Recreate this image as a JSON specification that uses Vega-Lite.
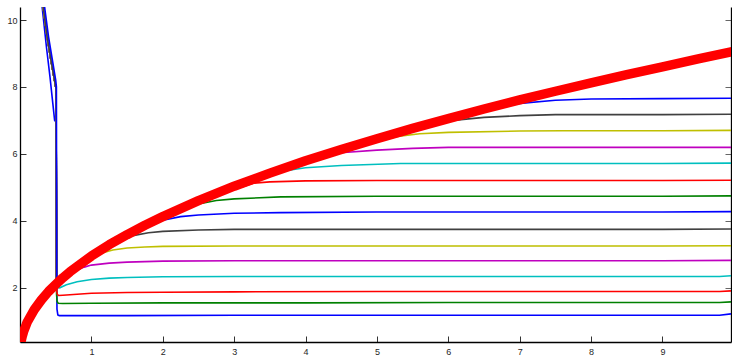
{
  "$schema": "https://vega.github.io/schema/vega-lite/v6.json",
  "width": 711,
  "height": 335,
  "autosize": {"type": "none"},
  "padding": {"left": 20, "top": 7, "right": 1, "bottom": 14},
  "background": "white",
  "config": {
    "view": {"stroke": null},
    "axis": {"grid": false, "title": null, "labelFont": "Liberation Sans", "labelFontSize": 9, "labelColor": "#262626", "domainColor": "#000000", "domainWidth": 1.3, "tickColor": "#333333", "tickWidth": 1, "tickSize": -6, "format": "d"}
  },
  "datasets": {
    "curves": [
      {"c":"c01","x":0.28,"y":11.0},{"c":"c01","x":0.32,"y":10.2},{"c":"c01","x":0.37,"y":9.2},{"c":"c01","x":0.42,"y":8.3},{"c":"c01","x":0.46,"y":7.5},{"c":"c01","x":0.485,"y":7.0},{"c":"c01","x":0.505,"y":6.95},{"c":"c01","x":0.512,"y":3.0},{"c":"c01","x":0.518,"y":1.35},{"c":"c01","x":0.53,"y":1.18},{"c":"c01","x":0.55,"y":1.16},{"c":"c01","x":0.8,"y":1.16},{"c":"c01","x":1.5,"y":1.16},{"c":"c01","x":3,"y":1.17},{"c":"c01","x":5,"y":1.17},{"c":"c01","x":7,"y":1.17},{"c":"c01","x":9,"y":1.17},{"c":"c01","x":9.8,"y":1.17},{"c":"c01","x":9.96,"y":1.21},

      {"c":"c02","x":0.29,"y":11.0},{"c":"c02","x":0.33,"y":10.3},{"c":"c02","x":0.38,"y":9.5},{"c":"c02","x":0.43,"y":8.85},{"c":"c02","x":0.48,"y":8.25},{"c":"c02","x":0.505,"y":7.95},{"c":"c02","x":0.512,"y":1.8},{"c":"c02","x":0.52,"y":1.58},{"c":"c02","x":0.535,"y":1.53},{"c":"c02","x":0.6,"y":1.52},{"c":"c02","x":1,"y":1.53},{"c":"c02","x":2,"y":1.54},{"c":"c02","x":4,"y":1.54},{"c":"c02","x":6,"y":1.55},{"c":"c02","x":8,"y":1.55},{"c":"c02","x":9.8,"y":1.55},{"c":"c02","x":9.96,"y":1.57},

      {"c":"c03","x":0.29,"y":11.0},{"c":"c03","x":0.33,"y":10.3},{"c":"c03","x":0.38,"y":9.5},{"c":"c03","x":0.43,"y":8.85},{"c":"c03","x":0.48,"y":8.25},{"c":"c03","x":0.505,"y":7.95},{"c":"c03","x":0.512,"y":1.95},{"c":"c03","x":0.522,"y":1.8},{"c":"c03","x":0.54,"y":1.76},{"c":"c03","x":0.6,"y":1.77},{"c":"c03","x":0.8,"y":1.8},{"c":"c03","x":1.0,"y":1.83},{"c":"c03","x":1.5,"y":1.85},{"c":"c03","x":2,"y":1.86},{"c":"c03","x":3,"y":1.87},{"c":"c03","x":5,"y":1.88},{"c":"c03","x":7,"y":1.88},{"c":"c03","x":9,"y":1.88},{"c":"c03","x":9.8,"y":1.88},{"c":"c03","x":9.96,"y":1.9},

      {"c":"c04","x":0.29,"y":11.0},{"c":"c04","x":0.33,"y":10.3},{"c":"c04","x":0.38,"y":9.5},{"c":"c04","x":0.43,"y":8.85},{"c":"c04","x":0.48,"y":8.25},{"c":"c04","x":0.505,"y":7.95},{"c":"c04","x":0.512,"y":2.1},{"c":"c04","x":0.53,"y":2.0},{"c":"c04","x":0.556,"y":1.99},{"c":"c04","x":0.65,"y":2.08},{"c":"c04","x":0.8,"y":2.17},{"c":"c04","x":1.0,"y":2.24},{"c":"c04","x":1.25,"y":2.28},{"c":"c04","x":1.5,"y":2.3},{"c":"c04","x":2,"y":2.32},{"c":"c04","x":3,"y":2.33},{"c":"c04","x":5,"y":2.33},{"c":"c04","x":7,"y":2.33},{"c":"c04","x":9,"y":2.33},{"c":"c04","x":9.8,"y":2.33},{"c":"c04","x":9.96,"y":2.35},

      {"c":"c05","x":0.29,"y":11.0},{"c":"c05","x":0.33,"y":10.3},{"c":"c05","x":0.38,"y":9.5},{"c":"c05","x":0.43,"y":8.85},{"c":"c05","x":0.48,"y":8.25},{"c":"c05","x":0.505,"y":7.95},{"c":"c05","x":0.512,"y":2.03},{"c":"c05","x":0.6,"y":2.21},{"c":"c05","x":0.7,"y":2.38},{"c":"c05","x":0.8,"y":2.52},{"c":"c05","x":0.9,"y":2.61},{"c":"c05","x":1.0,"y":2.67},{"c":"c05","x":1.25,"y":2.73},{"c":"c05","x":1.5,"y":2.76},{"c":"c05","x":2,"y":2.79},{"c":"c05","x":3,"y":2.8},{"c":"c05","x":5,"y":2.8},{"c":"c05","x":7,"y":2.8},{"c":"c05","x":9,"y":2.8},{"c":"c05","x":9.96,"y":2.81},

      {"c":"c06","x":0.29,"y":11.0},{"c":"c06","x":0.33,"y":10.3},{"c":"c06","x":0.38,"y":9.5},{"c":"c06","x":0.43,"y":8.85},{"c":"c06","x":0.48,"y":8.25},{"c":"c06","x":0.505,"y":7.95},{"c":"c06","x":0.512,"y":2.03},{"c":"c06","x":0.6,"y":2.21},{"c":"c06","x":0.8,"y":2.55},{"c":"c06","x":1.0,"y":2.86},{"c":"c06","x":1.15,"y":3.03},{"c":"c06","x":1.3,"y":3.12},{"c":"c06","x":1.5,"y":3.18},{"c":"c06","x":1.75,"y":3.21},{"c":"c06","x":2,"y":3.23},{"c":"c06","x":3,"y":3.24},{"c":"c06","x":5,"y":3.24},{"c":"c06","x":7,"y":3.24},{"c":"c06","x":9,"y":3.24},{"c":"c06","x":9.96,"y":3.25},

      {"c":"c07","x":0.29,"y":11.0},{"c":"c07","x":0.33,"y":10.3},{"c":"c07","x":0.38,"y":9.5},{"c":"c07","x":0.43,"y":8.85},{"c":"c07","x":0.48,"y":8.25},{"c":"c07","x":0.505,"y":7.95},{"c":"c07","x":0.512,"y":2.03},{"c":"c07","x":0.6,"y":2.21},{"c":"c07","x":0.8,"y":2.55},{"c":"c07","x":1.0,"y":2.86},{"c":"c07","x":1.25,"y":3.19},{"c":"c07","x":1.45,"y":3.45},{"c":"c07","x":1.6,"y":3.56},{"c":"c07","x":1.8,"y":3.64},{"c":"c07","x":2.0,"y":3.68},{"c":"c07","x":2.5,"y":3.72},{"c":"c07","x":3,"y":3.74},{"c":"c07","x":5,"y":3.74},{"c":"c07","x":7,"y":3.74},{"c":"c07","x":9,"y":3.74},{"c":"c07","x":9.96,"y":3.75},

      {"c":"c08","x":0.29,"y":11.0},{"c":"c08","x":0.33,"y":10.3},{"c":"c08","x":0.38,"y":9.5},{"c":"c08","x":0.43,"y":8.85},{"c":"c08","x":0.48,"y":8.25},{"c":"c08","x":0.505,"y":7.95},{"c":"c08","x":0.512,"y":2.03},{"c":"c08","x":0.6,"y":2.21},{"c":"c08","x":0.8,"y":2.55},{"c":"c08","x":1.0,"y":2.86},{"c":"c08","x":1.5,"y":3.5},{"c":"c08","x":1.75,"y":3.78},{"c":"c08","x":2.0,"y":4.01},{"c":"c08","x":2.25,"y":4.12},{"c":"c08","x":2.5,"y":4.17},{"c":"c08","x":3,"y":4.22},{"c":"c08","x":3.65,"y":4.24},{"c":"c08","x":5,"y":4.26},{"c":"c08","x":7,"y":4.26},{"c":"c08","x":9,"y":4.26},{"c":"c08","x":9.96,"y":4.27},

      {"c":"c09","x":0.29,"y":11.0},{"c":"c09","x":0.33,"y":10.3},{"c":"c09","x":0.38,"y":9.5},{"c":"c09","x":0.43,"y":8.85},{"c":"c09","x":0.48,"y":8.25},{"c":"c09","x":0.505,"y":7.95},{"c":"c09","x":0.512,"y":2.03},{"c":"c09","x":0.6,"y":2.21},{"c":"c09","x":0.8,"y":2.55},{"c":"c09","x":1.0,"y":2.86},{"c":"c09","x":1.5,"y":3.5},{"c":"c09","x":2.0,"y":4.04},{"c":"c09","x":2.5,"y":4.5},{"c":"c09","x":2.75,"y":4.6},{"c":"c09","x":3.0,"y":4.65},{"c":"c09","x":3.65,"y":4.71},{"c":"c09","x":5,"y":4.73},{"c":"c09","x":7,"y":4.73},{"c":"c09","x":9,"y":4.73},{"c":"c09","x":9.96,"y":4.74},

      {"c":"c10","x":0.29,"y":11.0},{"c":"c10","x":0.33,"y":10.3},{"c":"c10","x":0.38,"y":9.5},{"c":"c10","x":0.43,"y":8.85},{"c":"c10","x":0.48,"y":8.25},{"c":"c10","x":0.505,"y":7.95},{"c":"c10","x":0.512,"y":2.03},{"c":"c10","x":0.6,"y":2.21},{"c":"c10","x":0.8,"y":2.55},{"c":"c10","x":1.0,"y":2.86},{"c":"c10","x":1.5,"y":3.5},{"c":"c10","x":2.0,"y":4.04},{"c":"c10","x":2.5,"y":4.52},{"c":"c10","x":3.0,"y":4.93},{"c":"c10","x":3.27,"y":5.12},{"c":"c10","x":3.5,"y":5.16},{"c":"c10","x":4.0,"y":5.19},{"c":"c10","x":5,"y":5.2},{"c":"c10","x":7,"y":5.2},{"c":"c10","x":9,"y":5.2},{"c":"c10","x":9.96,"y":5.21},

      {"c":"c11","x":0.29,"y":11.0},{"c":"c11","x":0.33,"y":10.3},{"c":"c11","x":0.38,"y":9.5},{"c":"c11","x":0.43,"y":8.85},{"c":"c11","x":0.48,"y":8.25},{"c":"c11","x":0.505,"y":7.95},{"c":"c11","x":0.512,"y":2.03},{"c":"c11","x":0.6,"y":2.21},{"c":"c11","x":0.8,"y":2.55},{"c":"c11","x":1.0,"y":2.86},{"c":"c11","x":1.5,"y":3.5},{"c":"c11","x":2.0,"y":4.04},{"c":"c11","x":2.5,"y":4.52},{"c":"c11","x":3.0,"y":4.95},{"c":"c11","x":3.5,"y":5.34},{"c":"c11","x":3.74,"y":5.5},{"c":"c11","x":4.0,"y":5.58},{"c":"c11","x":4.5,"y":5.65},{"c":"c11","x":5.33,"y":5.71},{"c":"c11","x":7,"y":5.71},{"c":"c11","x":9,"y":5.71},{"c":"c11","x":9.96,"y":5.72},

      {"c":"c12","x":0.29,"y":11.0},{"c":"c12","x":0.33,"y":10.3},{"c":"c12","x":0.38,"y":9.5},{"c":"c12","x":0.43,"y":8.85},{"c":"c12","x":0.48,"y":8.25},{"c":"c12","x":0.505,"y":7.95},{"c":"c12","x":0.512,"y":2.03},{"c":"c12","x":0.6,"y":2.21},{"c":"c12","x":0.8,"y":2.55},{"c":"c12","x":1.0,"y":2.86},{"c":"c12","x":1.5,"y":3.5},{"c":"c12","x":2.0,"y":4.04},{"c":"c12","x":2.5,"y":4.52},{"c":"c12","x":3.0,"y":4.95},{"c":"c12","x":3.5,"y":5.34},{"c":"c12","x":4.0,"y":5.71},{"c":"c12","x":4.49,"y":6.03},{"c":"c12","x":5.0,"y":6.11},{"c":"c12","x":5.5,"y":6.16},{"c":"c12","x":6.0,"y":6.19},{"c":"c12","x":8,"y":6.19},{"c":"c12","x":9.96,"y":6.19},

      {"c":"c13","x":0.29,"y":11.0},{"c":"c13","x":0.33,"y":10.3},{"c":"c13","x":0.38,"y":9.5},{"c":"c13","x":0.43,"y":8.85},{"c":"c13","x":0.48,"y":8.25},{"c":"c13","x":0.505,"y":7.95},{"c":"c13","x":0.512,"y":2.03},{"c":"c13","x":0.6,"y":2.21},{"c":"c13","x":0.8,"y":2.55},{"c":"c13","x":1.0,"y":2.86},{"c":"c13","x":1.5,"y":3.5},{"c":"c13","x":2.0,"y":4.04},{"c":"c13","x":2.5,"y":4.52},{"c":"c13","x":3.0,"y":4.95},{"c":"c13","x":3.5,"y":5.34},{"c":"c13","x":4.0,"y":5.71},{"c":"c13","x":4.5,"y":6.05},{"c":"c13","x":5.0,"y":6.37},{"c":"c13","x":5.29,"y":6.52},{"c":"c13","x":5.6,"y":6.6},{"c":"c13","x":6.0,"y":6.64},{"c":"c13","x":7.0,"y":6.68},{"c":"c13","x":7.6,"y":6.69},{"c":"c13","x":9,"y":6.69},{"c":"c13","x":9.96,"y":6.7},

      {"c":"c14","x":0.29,"y":11.0},{"c":"c14","x":0.33,"y":10.3},{"c":"c14","x":0.38,"y":9.5},{"c":"c14","x":0.43,"y":8.85},{"c":"c14","x":0.48,"y":8.25},{"c":"c14","x":0.505,"y":7.95},{"c":"c14","x":0.512,"y":2.03},{"c":"c14","x":0.6,"y":2.21},{"c":"c14","x":0.8,"y":2.55},{"c":"c14","x":1.0,"y":2.86},{"c":"c14","x":1.5,"y":3.5},{"c":"c14","x":2.0,"y":4.04},{"c":"c14","x":2.5,"y":4.52},{"c":"c14","x":3.0,"y":4.95},{"c":"c14","x":3.5,"y":5.34},{"c":"c14","x":4.0,"y":5.71},{"c":"c14","x":4.5,"y":6.05},{"c":"c14","x":5.0,"y":6.37},{"c":"c14","x":5.5,"y":6.68},{"c":"c14","x":6.07,"y":7.0},{"c":"c14","x":6.5,"y":7.09},{"c":"c14","x":7.0,"y":7.14},{"c":"c14","x":7.5,"y":7.17},{"c":"c14","x":9,"y":7.17},{"c":"c14","x":9.96,"y":7.18},

      {"c":"c15","x":0.31,"y":11.0},{"c":"c15","x":0.35,"y":10.3},{"c":"c15","x":0.4,"y":9.5},{"c":"c15","x":0.45,"y":8.85},{"c":"c15","x":0.5,"y":8.2},{"c":"c15","x":0.51,"y":8.0},{"c":"c15","x":0.515,"y":2.03},{"c":"c15","x":0.6,"y":2.21},{"c":"c15","x":0.8,"y":2.55},{"c":"c15","x":1.0,"y":2.86},{"c":"c15","x":1.5,"y":3.5},{"c":"c15","x":2.0,"y":4.04},{"c":"c15","x":2.5,"y":4.52},{"c":"c15","x":3.0,"y":4.95},{"c":"c15","x":3.5,"y":5.34},{"c":"c15","x":4.0,"y":5.71},{"c":"c15","x":4.5,"y":6.05},{"c":"c15","x":5.0,"y":6.37},{"c":"c15","x":5.5,"y":6.68},{"c":"c15","x":6.0,"y":6.97},{"c":"c15","x":6.5,"y":7.26},{"c":"c15","x":6.97,"y":7.5},{"c":"c15","x":7.5,"y":7.6},{"c":"c15","x":8.0,"y":7.64},{"c":"c15","x":9,"y":7.65},{"c":"c15","x":9.96,"y":7.66}
    ],
    "red": [
      {"x":0.012,"y":0.36},{"x":0.03,"y":0.53},{"x":0.05,"y":0.68},{"x":0.1,"y":0.96},{"x":0.2,"y":1.34},{"x":0.3,"y":1.63},{"x":0.4,"y":1.88},{"x":0.52,"y":2.13},{"x":0.6,"y":2.29},{"x":0.7,"y":2.47},{"x":0.8,"y":2.63},{"x":1.0,"y":2.94},{"x":1.25,"y":3.28},{"x":1.5,"y":3.58},{"x":1.75,"y":3.86},{"x":2.0,"y":4.12},{"x":2.5,"y":4.6},{"x":3.0,"y":5.03},{"x":3.5,"y":5.42},{"x":4.0,"y":5.79},{"x":4.5,"y":6.13},{"x":5.0,"y":6.45},{"x":5.5,"y":6.76},{"x":6.0,"y":7.05},{"x":6.5,"y":7.34},{"x":7.0,"y":7.61},{"x":7.5,"y":7.87},{"x":8.0,"y":8.12},{"x":8.5,"y":8.37},{"x":9.0,"y":8.6},{"x":9.5,"y":8.84},{"x":9.96,"y":9.05}
    ]
  },
  "layer": [
    {
      "data": {"name": "curves"},
      "mark": {"type": "line", "strokeWidth": 1.6, "clip": true},
      "encoding": {
        "x": {"field": "x", "type": "quantitative", "scale": {"domain": [0, 9.96], "nice": false, "zero": false},
              "axis": {"orient": "bottom", "values": [1,2,3,4,5,6,7,8,9], "labelPadding": 11}},
        "y": {"field": "y", "type": "quantitative", "scale": {"domain": [0.37, 10.39], "nice": false, "zero": false},
              "axis": {"orient": "left", "values": [2,4,6,8,10], "labelPadding": 9}},
        "color": {"field": "c", "type": "nominal", "legend": null,
                  "scale": {"domain": ["c01","c02","c03","c04","c05","c06","c07","c08","c09","c10","c11","c12","c13","c14","c15"],
                            "range": ["#0000ff","#008000","#ff0000","#00bfbf","#bf00bf","#bfbf00","#404040","#0000ff","#008000","#ff0000","#00bfbf","#bf00bf","#bfbf00","#404040","#0000ff"]}}
      }
    },
    {
      "data": {"name": "red"},
      "mark": {"type": "line", "color": "#ff0000", "strokeWidth": 9.5, "strokeCap": "round", "strokeJoin": "round", "clip": true},
      "encoding": {
        "x": {"field": "x", "type": "quantitative"},
        "y": {"field": "y", "type": "quantitative",
              "axis": {"orient": "right", "values": [2,4,6,8,10], "labels": false, "tickColor": "#666666"}}
      }
    }
  ],
  "resolve": {"axis": {"y": "independent"}}
}
